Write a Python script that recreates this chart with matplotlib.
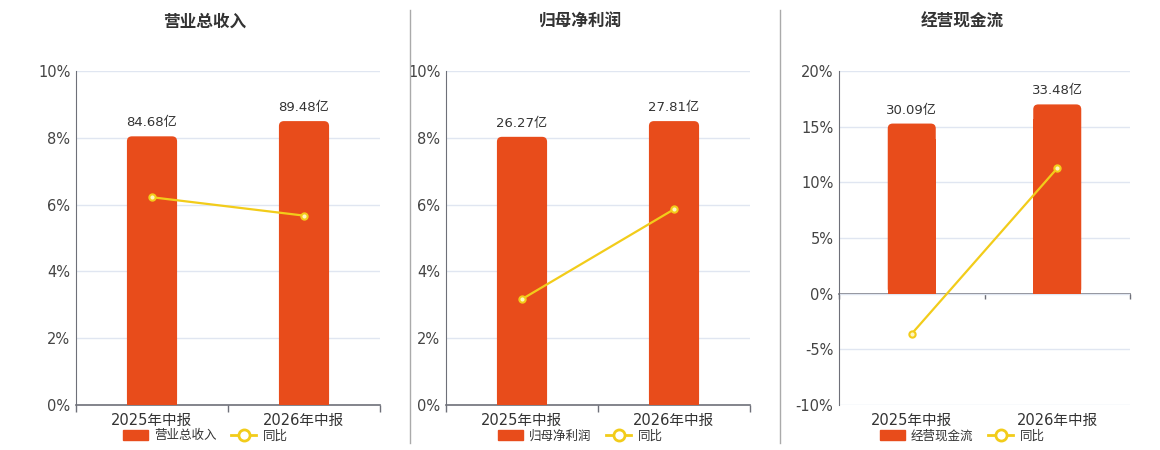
import matplotlib
matplotlib.use("Agg")
import matplotlib.pyplot as plt
from matplotlib.patches import Patch, FancyBboxPatch
from matplotlib.lines import Line2D
from matplotlib.ticker import FuncFormatter

plt.rcParams['font.family'] = ['DejaVu Sans', 'Noto Sans CJK SC']

categories = ["2025年中报", "2026年中报"]
titles = ["营业总收入", "归母净利润", "经营现金流"]
bar_values = [
    [84.68, 89.48],
    [26.27, 27.81],
    [30.09, 33.48],
]
yoy_values = [
    [6.22, 5.67],
    [3.17, 5.86],
    [-3.6, 11.27],
]
pct_limits = [(0, 10), (0, 10), (-10, 20)]
pct_ticks = [
    [0, 2, 4, 6, 8, 10],
    [0, 2, 4, 6, 8, 10],
    [-10, -5, 0, 5, 10, 15, 20],
]
legend_line_label = "同比"

BAR_COLOR = "#E84C1B"
LINE_COLOR = "#F2CC1A"
GRID_COLOR = "#E0E6F1"
AXIS_COLOR = "#6E7079"
TEXT_COLOR = "#333333"

W, H = 1160, 450
fig = plt.figure(figsize=(W / 100, H / 100), dpi=100)

panels = [
    dict(left=76, right=380, center=205),
    dict(left=446, right=750, center=580),
    dict(left=839, right=1130, center=962),
]
top_px, bottom_px = 71, 405
plot_h = bottom_px - top_px

for i, p in enumerate(panels):
    plot_w = p['right'] - p['left']
    rect = [p['left'] / W, 1 - bottom_px / H, plot_w / W, plot_h / H]
    ax = fig.add_axes(rect)
    ax.set_zorder(1)
    lo, hi = pct_limits[i]
    ax.set_ylim(lo, hi)
    ax.set_xlim(-0.5, 1.5)
    ax.set_yticks(pct_ticks[i])
    ax.yaxis.set_major_formatter(FuncFormatter(lambda v, _: f"{v:.0f}%"))
    ax.grid(axis='y', color=GRID_COLOR, linewidth=1)
    ax.set_axisbelow(True)
    for s in ['top', 'right']:
        ax.spines[s].set_visible(False)
    ax.spines['left'].set_color(AXIS_COLOR)
    ax.tick_params(axis='y', length=0, labelsize=10.5, labelcolor="#444444", pad=4)
    ax.set_xticks([0, 1])
    ax.set_xticklabels(categories)
    ax.tick_params(axis='x', length=0, labelsize=10.5, labelcolor="#333333", pad=6)
    if lo == 0:
        ax.spines['bottom'].set_color(AXIS_COLOR)
        ax.spines['bottom'].set_linewidth(1.2)
        ax.set_xticks([-0.5, 0.5, 1.5], minor=True)
        ax.tick_params(axis='x', which='minor', length=5, color=AXIS_COLOR, width=1)
    else:
        ax.spines['bottom'].set_visible(False)
        ax.axhline(0, color=AXIS_COLOR, linewidth=1.2, zorder=0.5, clip_on=False)
        tick_len = (hi - lo) * 5 / plot_h
        ax.vlines([-0.5, 0.5, 1.5], -tick_len, 0, color=AXIS_COLOR, linewidth=1,
                  zorder=0.5, clip_on=False)

    # bars on a hidden twin axis
    axb = ax.twinx()
    axb.set_zorder(2)
    axb.patch.set_visible(False)
    top = max(bar_values[i]) / 0.85
    ylo = lo / hi * top
    axb.set_ylim(ylo, top)
    axb.axis('off')
    xs = list(range(len(categories)))
    bars = axb.bar(xs, bar_values[i], width=0.33, color=BAR_COLOR, zorder=2)
    x_per_px = 2.0 / plot_w
    y_per_px = (top - ylo) / plot_h
    rad_px = 5
    for b, v in zip(bars, bar_values[i]):
        h = b.get_height()
        b.set_height(h - 3 * rad_px * y_per_px)
        fb = FancyBboxPatch((b.get_x(), 0), b.get_width(), h,
                            boxstyle=f"round,pad=0,rounding_size={rad_px * x_per_px}",
                            mutation_aspect=y_per_px / x_per_px,
                            facecolor=BAR_COLOR, edgecolor='none', zorder=2)
        axb.add_patch(fb)
        axb.annotate(f"{v:.2f}亿", (b.get_x() + b.get_width() / 2, h),
                     xytext=(0, 5), textcoords='offset points', ha='center', va='bottom',
                     fontsize=9.5, color=TEXT_COLOR)

    # yoy line
    axl = ax.twinx()
    axl.set_zorder(3)
    axl.patch.set_visible(False)
    axl.set_ylim(lo, hi)
    axl.axis('off')
    axl.plot(xs, yoy_values[i], color=LINE_COLOR, linewidth=1.6, marker='o', markersize=4.5,
             markerfacecolor="#FFF6C0", markeredgecolor=LINE_COLOR, markeredgewidth=1.5)

    fig.text(p['center'] / W, 1 - 22 / H, titles[i], ha='center', va='center',
             fontsize=12, fontweight='bold', color=TEXT_COLOR)

    handles = [
        Patch(facecolor=BAR_COLOR, edgecolor=BAR_COLOR),
        Line2D([0], [0], color=LINE_COLOR, linewidth=2, marker='o', markersize=8,
               markerfacecolor='white', markeredgecolor=LINE_COLOR, markeredgewidth=2),
    ]
    fig.legend(handles, [titles[i], legend_line_label], loc='center',
               bbox_to_anchor=(p['center'] / W, 1 - 436 / H), ncol=2, frameon=False,
               fontsize=9, handlelength=2.0, handleheight=0.9, columnspacing=1.2,
               handletextpad=0.5, labelcolor=TEXT_COLOR)

# separators
for x in [410, 780]:
    fig.add_artist(Line2D([x / W, x / W], [1 - 443 / H, 1 - 10 / H], color="#AAAAAA", linewidth=1))

fig.savefig("out.png", dpi=100)
